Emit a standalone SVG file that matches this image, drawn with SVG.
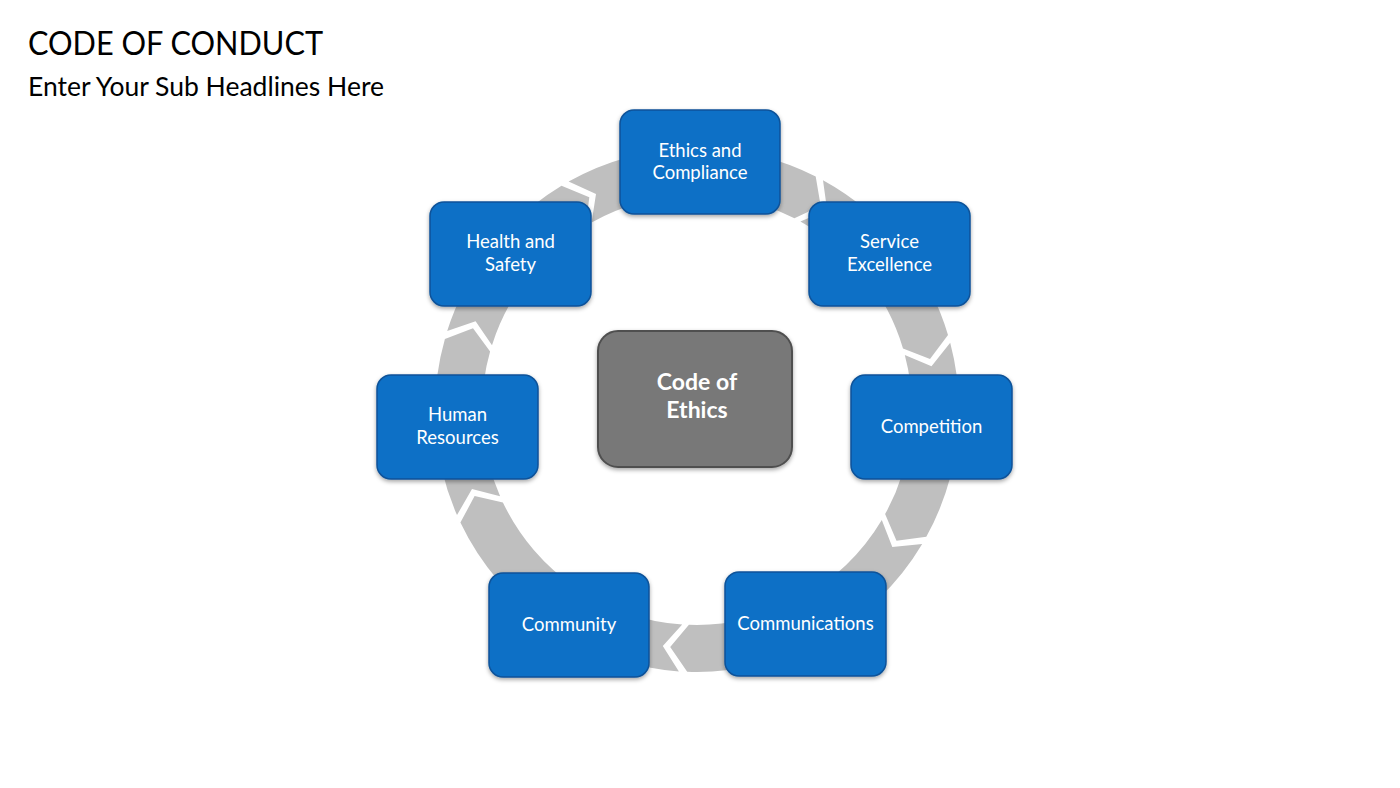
<svg xmlns="http://www.w3.org/2000/svg" width="1400" height="788" viewBox="0 0 1400 788">
<style>
.ring{fill:#BFBFBF;}
.node{fill:#0F6FC6;stroke:#0A5299;stroke-width:1.5;filter:url(#sh);}
.center{fill:#787878;stroke:#505050;stroke-width:2;filter:url(#sh);}
.lbl{font-family:Lato,"Noto Sans",sans-serif;font-size:18.5px;fill:#FFFFFF;text-anchor:middle;}
.clbl{font-family:Lato,"Noto Sans",sans-serif;font-size:23px;font-weight:bold;fill:#FFFFFF;text-anchor:middle;}
.title{font-family:Lato,"Noto Sans",sans-serif;fill:#000000;}
</style>
<defs>
<filter id="sh" x="-10%" y="-10%" width="120%" height="130%">
<feDropShadow dx="0" dy="2" stdDeviation="2" flood-color="#000" flood-opacity="0.35"/>
</filter>
</defs>
<rect width="1400" height="788" fill="#FFFFFF"/>
<text class="title" x="28" y="55" font-size="33" textLength="295" lengthAdjust="spacingAndGlyphs">CODE OF CONDUCT</text>
<text class="title" x="28" y="96" font-size="26.5">Enter Your Sub Headlines Here</text>
<g id="connectors">
<path class="ring" d="M568.6,181.6 A262,262 0 0,1 815.7,176.5 L820.7,206.1 L794.4,218.3 A215,215 0 0,0 591.6,222.6 L596.0,193.9 Z"/>
<path class="ring" d="M823.0,180.3 A262,262 0 0,1 948.0,334.9 L930.0,359.0 L903.0,348.4 A215,215 0 0,0 800.4,221.5 L827.1,210.1 Z"/>
<path class="ring" d="M950.2,342.8 A262,262 0 0,1 926.3,536.8 L896.5,540.8 L885.1,514.1 A215,215 0 0,0 904.8,354.9 L931.5,366.3 Z"/>
<path class="ring" d="M922.2,544.0 A262,262 0 0,1 687.2,671.8 L670.2,647.0 L688.9,624.8 A215,215 0 0,0 881.8,519.9 L892.3,547.0 Z"/>
<path class="ring" d="M678.9,671.4 A262,262 0 0,1 460.4,522.6 L474.6,496.1 L502.9,502.4 A215,215 0 0,0 682.2,624.5 L662.8,646.0 Z"/>
<path class="ring" d="M457.0,515.1 A262,262 0 0,1 444.9,338.9 L473.0,328.2 L490.1,351.6 A215,215 0 0,0 500.1,496.2 L472.0,489.0 Z"/>
<path class="ring" d="M447.2,331.0 A262,262 0 0,1 561.5,185.8 L589.3,197.2 L585.8,226.0 A215,215 0 0,0 492.0,345.2 L475.6,321.2 Z"/>
</g>
<g id="node-center">
<rect class="center" x="598" y="331" width="194" height="136" rx="20"/>
<text class="clbl" x="697" y="390">Code of</text>
<text class="clbl" x="697" y="418">Ethics</text>
</g>
<g id="node-ethics">
<rect class="node" x="620" y="110" width="160" height="104" rx="14"/>
<text class="lbl" x="700" y="157">Ethics and</text>
<text class="lbl" x="700" y="179">Compliance</text>
</g>
<g id="node-service">
<rect class="node" x="809" y="202" width="161" height="104" rx="14"/>
<text class="lbl" x="889.5" y="248">Service</text>
<text class="lbl" x="889.5" y="271">Excellence</text>
</g>
<g id="node-competition">
<rect class="node" x="851" y="375" width="161" height="104" rx="14"/>
<text class="lbl" x="931.5" y="433">Competition</text>
</g>
<g id="node-communications">
<rect class="node" x="725" y="572" width="161" height="104" rx="14"/>
<text class="lbl" x="805.5" y="630">Communications</text>
</g>
<g id="node-community">
<rect class="node" x="489" y="573" width="160" height="104" rx="14"/>
<text class="lbl" x="569" y="631">Community</text>
</g>
<g id="node-human">
<rect class="node" x="377" y="375" width="161" height="104" rx="14"/>
<text class="lbl" x="457.5" y="421">Human</text>
<text class="lbl" x="457.5" y="444">Resources</text>
</g>
<g id="node-health">
<rect class="node" x="430" y="202" width="161" height="104" rx="14"/>
<text class="lbl" x="510.5" y="248">Health and</text>
<text class="lbl" x="510.5" y="271">Safety</text>
</g>
</svg>
